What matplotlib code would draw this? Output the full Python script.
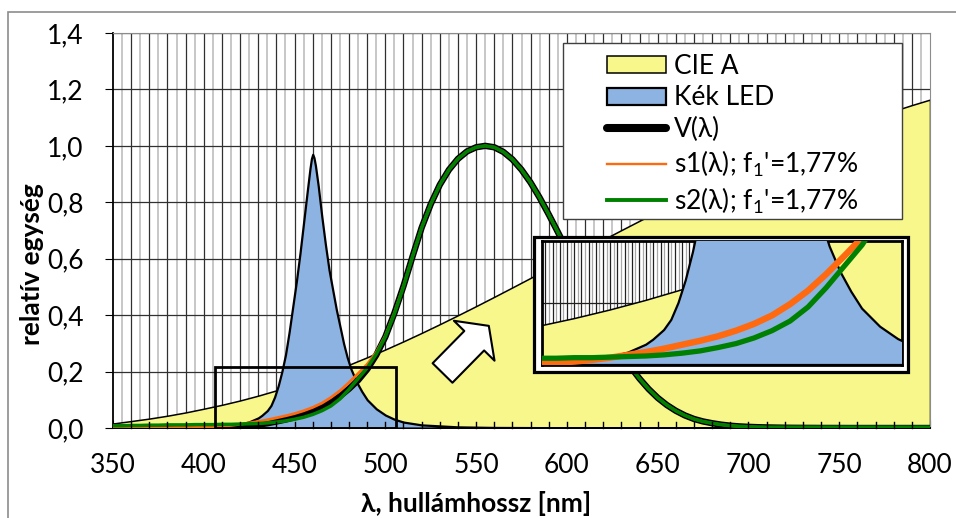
import numpy as np
import matplotlib.pyplot as plt
import matplotlib.patches as mpatches
import matplotlib.ticker as mticker

plt.rcParams['font.family'] = ['Lato', 'DejaVu Sans']

# --- adatok ---
wl = np.arange(350, 805, 5)

# V(λ) 5 nm-enként, 350..800 nm
v_lambda = [0, 0, 0, 0, 0, 0,
            0.00004, 0.00006, 0.00012, 0.00022, 0.0004, 0.00064, 0.0012, 0.0022,
            0.004, 0.0073, 0.0116, 0.0168, 0.023, 0.0298, 0.038, 0.048, 0.06,
            0.0739, 0.091, 0.1126, 0.139, 0.1693, 0.208, 0.2586, 0.323, 0.4073,
            0.503, 0.6082, 0.71, 0.7932, 0.862, 0.9149, 0.954, 0.9803, 0.995,
            1.0, 0.995, 0.9786, 0.952, 0.9154, 0.87, 0.8163, 0.757, 0.6949, 0.631,
            0.5668, 0.503, 0.4412, 0.381, 0.321, 0.265, 0.217, 0.175, 0.1382,
            0.107, 0.0816, 0.061, 0.0446, 0.032, 0.0232, 0.017, 0.0119, 0.0082,
            0.0057, 0.0041, 0.0029, 0.0021, 0.0015, 0.001, 0.0007, 0.0005, 0.0004,
            0.0002, 0.0002, 0.0001,
            0, 0, 0, 0, 0, 0, 0, 0, 0, 0]

# s1(λ) - narancs
s1 = [0, 0, 0, 0, 0.001, 0.001, 0.001, 0.002, 0.002, 0.002,
      0.003, 0.004, 0.006, 0.009, 0.013, 0.018, 0.023, 0.029, 0.036, 0.043,
      0.051, 0.061, 0.073, 0.088, 0.108, 0.132, 0.161, 0.193, 0.226, 0.268,
      0.327, 0.409, 0.504, 0.6082, 0.71, 0.7932, 0.862, 0.9149, 0.954, 0.9803,
      0.995, 1.0, 0.995, 0.9786, 0.952, 0.9154, 0.87, 0.8163, 0.757, 0.6949,
      0.631, 0.5668, 0.503, 0.4412, 0.381, 0.321, 0.265, 0.217, 0.175, 0.1382,
      0.107, 0.0816, 0.061, 0.0446, 0.032, 0.0232, 0.017, 0.0119, 0.0082,
      0.0057, 0.0041, 0.0029, 0.0021, 0.0015, 0.001, 0.0007, 0.0005, 0.0004,
      0.0002, 0.0002, 0.0001,
      0, 0, 0, 0, 0, 0, 0, 0, 0, 0]

# s2(λ) - zöld
s2 = [0.008, 0.008, 0.009, 0.009, 0.010, 0.010, 0.011, 0.011, 0.011, 0.012,
      0.012, 0.012, 0.013, 0.013, 0.014, 0.015, 0.016, 0.018, 0.021, 0.025,
      0.031, 0.038, 0.048, 0.061, 0.078, 0.103, 0.137, 0.175, 0.213, 0.262,
      0.323, 0.405, 0.501, 0.6082, 0.71, 0.7932, 0.862, 0.9149, 0.954, 0.9803,
      0.995, 1.0, 0.995, 0.9786, 0.952, 0.9154, 0.87, 0.8163, 0.757, 0.6949,
      0.631, 0.5668, 0.503, 0.4412, 0.381, 0.321, 0.265, 0.217, 0.175, 0.1382,
      0.107, 0.0816, 0.061, 0.0446, 0.032, 0.0232, 0.017, 0.0119, 0.0084,
      0.006, 0.0045, 0.0035, 0.003, 0.003, 0.003, 0.003, 0.003, 0.003,
      0.003, 0.003, 0.003,
      0.003, 0.003, 0.003, 0.003, 0.003, 0.003, 0.003, 0.003, 0.003, 0.003]

# CIE A fényforrás, relatív
cie_wl = np.arange(350, 810, 10)
cie_a = [0.016, 0.0246, 0.0334, 0.0436, 0.0552, 0.0684, 0.0822, 0.0976, 0.1147,
         0.1335, 0.1538, 0.1758, 0.1993, 0.2243, 0.2507, 0.2784, 0.3072, 0.3371,
         0.368, 0.3997, 0.432, 0.465, 0.4984, 0.5321, 0.566, 0.6, 0.634, 0.6678,
         0.7014, 0.7346, 0.7674, 0.7996, 0.8313, 0.8622, 0.8925, 0.9219, 0.9505,
         0.9782, 1.005, 1.0307, 1.0556, 1.0793, 1.1021, 1.1238, 1.1445, 1.164]

# kék LED spektrum
led_wl = [350, 380, 400, 410, 420, 425, 430, 432, 435, 437, 439, 441, 443, 445,
          447, 449, 451, 453, 455, 457, 458.5, 459.3, 460, 460.7, 461.5, 463,
          465, 467, 469, 471, 473, 475, 477, 479, 481, 484, 487, 490, 495, 500,
          505, 510, 520, 540, 560, 600, 650, 800]
led = [0, 0.001, 0.004, 0.007, 0.014, 0.022, 0.036, 0.045, 0.062, 0.08, 0.11,
       0.15, 0.2, 0.26, 0.34, 0.43, 0.52, 0.62, 0.73, 0.84, 0.92, 0.955, 0.97,
       0.958, 0.93, 0.86, 0.75, 0.65, 0.56, 0.49, 0.42, 0.36, 0.3, 0.25, 0.21,
       0.165, 0.13, 0.1, 0.068, 0.046, 0.031, 0.021, 0.011, 0.004, 0.002, 0.001,
       0, 0]

YELLOW = '#F7F78C'
BLUE = '#8DB3E2'
ORANGE = '#FF6A10'
GREEN = '#008000'

W, H = 956, 518
fig = plt.figure(figsize=(W / 100, H / 100), dpi=100)
ax = fig.add_axes([113 / W, 90 / H, 817 / W, 395 / H])


def draw_series(a, lw_v, lw_s1, lw_s2):
    a.fill_between(cie_wl, cie_a, color=YELLOW, edgecolor='black', lw=1.1, zorder=2, label='CIE A')
    a.fill_between(led_wl, led, color=BLUE, edgecolor='black', lw=1.6, zorder=3, label='Kék LED')
    if lw_v:
        a.plot(wl, v_lambda, color='black', lw=lw_v, solid_capstyle='round', zorder=4, label='V(λ)')
    a.plot(wl, s1, color=ORANGE, lw=lw_s1, zorder=5, label="s1(λ); f$_\\mathregular{1}$'=1,77%")
    a.plot(wl, s2, color=GREEN, lw=lw_s2, zorder=6, label="s2(λ); f$_\\mathregular{1}$'=1,77%")


draw_series(ax, 4.6, 2.0, 2.5)

ax.set_xlim(350, 800)
ax.set_ylim(0, 1.4)
ax.set_axisbelow(True)

ax.set_xticks(np.arange(350, 801, 50))
ax.set_yticks(np.arange(0, 1.41, 0.2))
ax.yaxis.set_major_formatter(mticker.FuncFormatter(lambda v, p: f'{v:.1f}'.replace('.', ',')))

# rács: 10 nm sötét, 5 nm világos
for x in np.arange(355, 800, 5):
    dark = (x % 10 == 0)
    ax.axvline(x, color='#303030' if dark else '#b8b8b8', lw=0.9 if dark else 1.1, zorder=0.5)
ax.grid(True, axis='y', color='#303030', lw=0.9)

ax.tick_params(axis='x', which='major', direction='in', length=6, labelsize=19, pad=18)
ax.tick_params(axis='y', which='major', direction='out', length=6, labelsize=19, pad=15)
# 10 nm-es belső osztások az x tengelyen
for x in np.arange(360, 800, 10):
    ax.plot([x, x], [0, 0.02], color='black', lw=1.0, zorder=7, clip_on=False)

for side in ['top', 'right']:
    ax.spines[side].set_color('#8c8c8c')
for side in ['left', 'bottom']:
    ax.spines[side].set_color('black')
    ax.spines[side].set_linewidth(1.3)

ax.set_xlabel('λ, hullámhossz [nm]', fontsize=19, fontweight='bold')
ax.set_ylabel('relatív egység', fontsize=19, fontweight='bold')
ax.xaxis.set_label_coords(0.444, -0.16)
ax.yaxis.set_label_coords(-0.084, 0.415)

# nagyított tartomány jelölése
ax.add_patch(mpatches.Rectangle((406, 0), 100, 0.215, fill=False, ec='black', lw=2.0, zorder=8))

# nyíl a nagyított részlet felé
ax.annotate('', xy=(557.0, 0.362), xytext=(531.5, 0.195),
            arrowprops=dict(arrowstyle='simple,head_length=0.75,head_width=2.05,tail_width=1.0',
                            mutation_scale=20, fc='white', ec='black', lw=1.5,
                            shrinkA=0, shrinkB=0), zorder=9)

# jelmagyarázat
ax.add_patch(mpatches.Rectangle((0.5504, 0.5291), 0.4157, 0.4463, transform=ax.transAxes,
                                fc='white', ec='#404040', lw=1.0, zorder=9))
leg = ax.legend(loc='upper left', bbox_to_anchor=(0.6043, 0.947), frameon=False,
                fontsize=19, borderpad=0, handlelength=2.25, handleheight=0.62,
                handletextpad=0.3, labelspacing=0.245, borderaxespad=0)
leg.set_zorder(10)
leg_lines = leg.get_lines()
leg_lines[0].set_linewidth(5.8)
leg_lines[1].set_linewidth(1.7)
leg_lines[2].set_linewidth(2.8)

# külső keret a nagyított ábrához
fig.add_artist(mpatches.Rectangle((534 / W, (H - 372) / H), 374 / W, 135.5 / H,
                                  transform=fig.transFigure, fc='white', ec='black', lw=2.3, zorder=1))

ax_in = fig.add_axes([541.7 / W, (H - 365) / H, 360 / W, 124 / H], zorder=2)
draw_series(ax_in, 0, 4.6, 3.8)
ax_in.set_xlim(401, 501)
ax_in.set_ylim(0, 0.22)
ax_in.set_axisbelow(True)
for x in np.arange(402, 501, 1):
    ax_in.axvline(x, color='#202020' if x % 2 == 0 else '#a8a8a8', lw=0.9, zorder=0.5)
ax_in.axhline(0.11, color='#202020', lw=0.9, zorder=0.5)
ax_in.set_xticks([])
ax_in.set_yticks([])
for s in ax_in.spines.values():
    s.set_color('black')
    s.set_linewidth(2.0)

# diagram kerete
fig.add_artist(mpatches.Rectangle((8 / W, -0.2), 1.2, (H - 12) / H + 0.2,
                                  transform=fig.transFigure, fill=False, ec='#8c8c8c', lw=1.2))

fig.savefig('out.png', dpi=100)
